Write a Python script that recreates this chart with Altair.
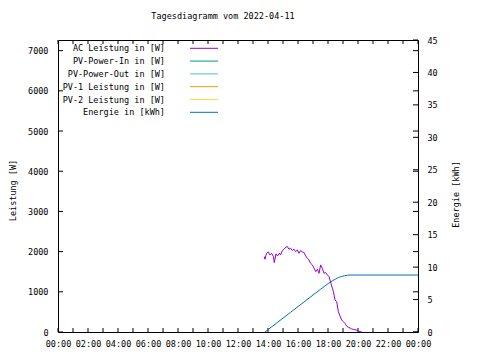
import altair as alt
import pandas as pd

title_text = "Tagesdiagramm vom 2022-04-11"
series_names = ["AC Leistung in [W]", "PV-Power-In in [W]", "PV-Power-Out in [W]",
                "PV-1 Leistung in [W]", "PV-2 Leistung in [W]", "Energie in [kWh]"]
series_colors = ["#9400d3", "#009e73", "#56b4e9", "#e69f00", "#f0e442", "#0072b2"]

ac_hours = [13.75, 13.80, 13.86, 13.91, 14.02, 14.13, 14.24, 14.36, 14.42, 14.53, 14.64, 14.76,
            14.84, 14.96, 15.07, 15.18, 15.29, 15.40, 15.51, 15.62, 15.73, 15.84, 15.96, 16.07,
            16.18, 16.29, 16.40, 16.51, 16.62, 16.73, 16.84, 16.96, 17.07, 17.18, 17.29, 17.40,
            17.51, 17.62, 17.73, 17.84, 17.96, 18.07, 18.13, 18.20, 18.29, 18.36, 18.47, 18.58,
            18.69, 18.80, 18.91, 19.02, 19.13, 19.24, 19.36, 19.47, 19.58, 19.69, 19.87, 20.02,
            20.13, 20.27]
ac_watts = [1877, 1810, 1900, 1960, 1993, 1918, 1960, 1877, 1727, 1943, 1893, 1960,
            1918, 2026, 2060, 2110, 2126, 2060, 2085, 2026, 2060, 2001, 2043, 1960,
            2026, 1993, 1976, 1893, 1835, 1793, 1710, 1669, 1586, 1503, 1561, 1461,
            1669, 1586, 1461, 1478, 1420, 1378, 1295, 1212, 1088, 1005, 797, 756,
            507, 399, 299, 257, 216, 149, 116, 100, 75, 66, 50, 25,
            8, 0]

energy_hours = [13.80, 14.00, 14.50, 15.00, 15.50, 16.00, 16.50, 17.00, 17.50, 18.00,
                18.30, 18.50, 18.70, 18.90, 19.10, 19.30, 19.50, 24.00]
energy_kwh = [0.0, 0.36, 1.25, 2.14, 3.03, 3.92, 4.80, 5.70, 6.58, 7.45,
              7.90, 8.15, 8.40, 8.55, 8.68, 8.75, 8.78, 8.78]

hour_ticks = list(range(0, 25))
hour_label_values = list(range(0, 25, 2))
left_ticks = [0, 1000, 2000, 3000, 4000, 5000, 6000, 7000]
right_ticks = [0, 5, 10, 15, 20, 25, 30, 35, 40, 45]

W, H = 360, 292
FONT = "DejaVu Sans Mono"
FS = 8.5

xs = alt.Scale(domain=[0, 24], nice=False, zero=False)
yl = alt.Scale(domain=[0, 7265], nice=False)
yr = alt.Scale(domain=[0, 45], nice=False)

ac_df = pd.DataFrame({"h": ac_hours, "w": ac_watts})
en_df = pd.DataFrame({"h": energy_hours, "e": energy_kwh})
xt_df = pd.DataFrame({"h": hour_ticks})
lt_df = pd.DataFrame({"v": left_ticks})
rt_df = pd.DataFrame({"v": right_ticks})
leg_df = pd.DataFrame({"name": series_names})

x_axis = alt.Axis(values=hour_label_values,
                  labelExpr="datum.value == 24 ? '00:00' : (datum.value < 10 ? '0' : '') + datum.value + ':00'",
                  ticks=False, domain=False, grid=False, labelPadding=7, title=None,
                  labelFlush=False, labelOverlap=False)
X = alt.X("h:Q", scale=xs, axis=x_axis, title=None)

ac = alt.Chart(ac_df).mark_line(color="#9400d3", strokeWidth=1).encode(
    x=X,
    y=alt.Y("w:Q", scale=yl, axis=alt.Axis(values=left_ticks, ticks=False, domain=False, grid=False,
                                          labelPadding=10, format="d", title="Leistung [W]",
                                          titleX=-46, titleY=150, titleAngle=270, titleAlign="center",
                                          titleBaseline="middle")),
)

en = alt.Chart(en_df).mark_line(color="#0072b2", strokeWidth=1).encode(
    x=X,
    y=alt.Y("e:Q", scale=yr, axis=alt.Axis(orient="right", values=right_ticks, ticks=False, domain=False,
                                          grid=False, labelPadding=9, format="d", title="Energie [kWh]",
                                          titleX=37, titleY=154, titleAngle=270, titleAlign="center",
                                          titleBaseline="middle")),
)

bottom_ticks = alt.Chart(xt_df).mark_rule(color="black", strokeWidth=1).encode(
    x=X, y=alt.value(H), y2=alt.value(H - 4))
top_ticks = alt.Chart(xt_df).mark_rule(color="black", strokeWidth=1).encode(
    x=X, y=alt.value(0), y2=alt.value(4))
left_tk = alt.Chart(lt_df).mark_rule(color="black", strokeWidth=1).encode(
    y=alt.Y("v:Q", scale=yl, axis=None), x=alt.value(0), x2=alt.value(5))
left_mirror = alt.Chart(lt_df).mark_rule(color="black", strokeWidth=1).encode(
    y=alt.Y("v:Q", scale=yl, axis=None), x=alt.value(W - 5), x2=alt.value(W))
right_tk = alt.Chart(rt_df).mark_rule(color="black", strokeWidth=1).encode(
    y=alt.Y("v:Q", scale=yr, axis=None), x=alt.value(W - 5), x2=alt.value(W))

leg_y = alt.Y("name:N", sort=series_names,
              scale=alt.Scale(type="point", domain=series_names, range=[8.3, 72.3], padding=0),
              axis=None)
leg_text = alt.Chart(leg_df).mark_text(align="right", baseline="middle", font=FONT, fontSize=FS,
                                       color="black").encode(
    text="name:N", x=alt.value(107), y=leg_y)
leg_line = alt.Chart(leg_df).mark_rule(strokeWidth=1).encode(
    x=alt.value(132), x2=alt.value(160), y=leg_y,
    color=alt.Color("name:N", scale=alt.Scale(domain=series_names, range=series_colors), legend=None))

chart = alt.layer(
    bottom_ticks, top_ticks, left_tk, left_mirror, right_tk, leg_text, leg_line, en, ac
).resolve_scale(y="independent").properties(
    width=W, height=H,
    title=alt.TitleParams(title_text, font=FONT, fontSize=FS, fontWeight="normal", anchor="middle",
                          dx=-15, offset=16, color="black"),
    autosize=alt.AutoSizeParams(type="none"),
    padding={"left": 50, "top": 32, "right": 54, "bottom": 20},
).configure_view(stroke="black", strokeWidth=1).configure_axis(
    labelFont=FONT, labelFontSize=FS, titleFont=FONT, titleFontSize=FS, titleFontWeight="normal",
    labelColor="black", titleColor="black"
)

chart.save("out.html", embed_options={"renderer": "svg", "actions": False})
